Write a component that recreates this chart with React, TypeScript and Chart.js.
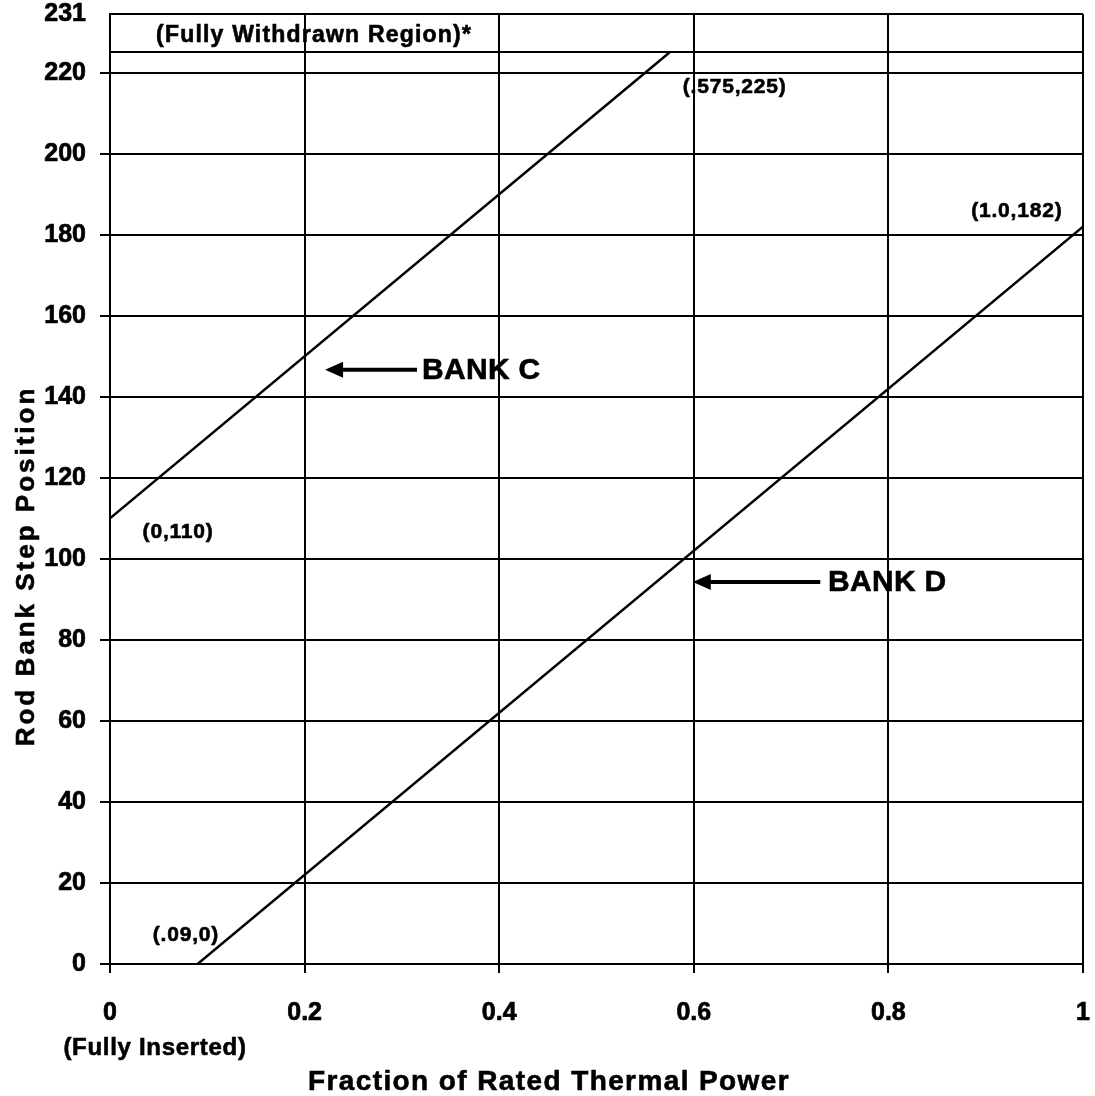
import { useEffect, useRef } from "react";
import { Chart, registerables } from "chart.js";

Chart.register(...registerables);

// ---- data ----
const bankCPower = [0, 0.575];
const bankCSteps = [110, 225];
const bankDPower = [0.09, 1.0];
const bankDSteps = [0, 182];

const xTickValues = [0, 0.2, 0.4, 0.6, 0.8, 1];
const xTickLabels = ["0", "0.2", "0.4", "0.6", "0.8", "1"];
const yTickValues = [0, 20, 40, 60, 80, 100, 120, 140, 160, 180, 200, 220, 225, 234.5];
const yTickLabels = ["0", "20", "40", "60", "80", "100", "120", "140", "160", "180", "200", "220", "", "231"];
const yMax = 234.5;

const pointLabelTexts = ["(0,110)", "(.575,225)", "(1.0,182)", "(.09,0)"];
const bankNames = ["BANK C", "BANK D"];
const regionText = "(Fully Withdrawn Region)*";
const insertedText = "(Fully Inserted)";
const xTitle = "Fraction of Rated Thermal Power";
const yTitle = "Rod Bank Step Position";

// ---- annotation anchors (data units) ----
const pointLabelAnchors = [
  { x: 0.07, y: 106.7 },
  { x: 0.642, y: 216.5 },
  { x: 0.932, y: 185.7 },
  { x: 0.078, y: 7.2 },
];
const arrowAnchors = [
  { tipX: 0.221, tailX: 0.3155, y: 146.7, textX: 0.3207 },
  { tipX: 0.599, tailX: 0.73, y: 94.3, textX: 0.738 },
];
const regionAnchor = { x: 0.2097, y: 229.1 };

const FAMILY = '"Liberation Sans", Arial, Helvetica, sans-serif';
const bold = (s: number) => `bold ${s}px ${FAMILY}`;

const annotationPlugin = {
  id: "annots",
  afterDraw(chart: any) {
    const { ctx } = chart;
    const xs = chart.scales.x;
    const ys = chart.scales.y;
    const text = (
      t: string,
      px: number,
      py: number,
      size: number,
      spacing: number,
      align: CanvasTextAlign = "center",
      baseline: CanvasTextBaseline = "middle"
    ) => {
      ctx.font = bold(size);
      (ctx as any).letterSpacing = spacing + "px";
      ctx.textAlign = align;
      ctx.textBaseline = baseline;
      ctx.lineWidth = 0.6;
      ctx.fillText(t, px, py);
      ctx.strokeText(t, px, py);
    };
    ctx.save();
    ctx.fillStyle = "#000";
    ctx.strokeStyle = "#000";

    // point labels
    pointLabelTexts.forEach((t, i) => {
      const a = pointLabelAnchors[i];
      text(t, xs.getPixelForValue(a.x), ys.getPixelForValue(a.y), 21, 0.8);
    });

    // region label
    text(regionText, xs.getPixelForValue(regionAnchor.x), ys.getPixelForValue(regionAnchor.y), 23, 1.2);

    // arrows + bank names
    bankNames.forEach((name, i) => {
      const a = arrowAnchors[i];
      const tip = xs.getPixelForValue(a.tipX);
      const tail = xs.getPixelForValue(a.tailX);
      const py = ys.getPixelForValue(a.y);
      const head = 18;
      ctx.lineWidth = 4;
      ctx.beginPath();
      ctx.moveTo(tail, py);
      ctx.lineTo(tip + head - 2, py);
      ctx.stroke();
      ctx.beginPath();
      ctx.moveTo(tip, py);
      ctx.lineTo(tip + head, py - 8);
      ctx.lineTo(tip + head, py + 8);
      ctx.closePath();
      ctx.fill();
      text(name, xs.getPixelForValue(a.textX), py + 1, 30, 0.3, "left", "middle");
    });

    // outside texts
    text(insertedText, 155, 1048, 24, 0.7);
    text(xTitle, 549, 1090, 28, 1.4, "center", "alphabetic");

    ctx.save();
    ctx.translate(27, 566);
    ctx.rotate(-Math.PI / 2);
    text(yTitle, 0, 0, 26, 3);
    ctx.restore();

    ctx.restore();
  },
};

export default function App() {
  const ref = useRef<HTMLCanvasElement | null>(null);

  useEffect(() => {
    document.body.style.margin = "0";
    const canvas = ref.current;
    if (!canvas) return;
    const chart = new Chart(canvas, {
      type: "scatter",
      data: {
        datasets: [
          {
            label: "Bank C",
            data: bankCPower.map((x, i) => ({ x, y: bankCSteps[i] })),
            showLine: true,
            borderColor: "#000",
            borderWidth: 2.5,
            pointRadius: 0,
            fill: false,
          },
          {
            label: "Bank D",
            data: bankDPower.map((x, i) => ({ x, y: bankDSteps[i] })),
            showLine: true,
            borderColor: "#000",
            borderWidth: 2.5,
            pointRadius: 0,
            fill: false,
          },
        ],
      },
      options: {
        animation: false,
        responsive: false,
        maintainAspectRatio: false,
        layout: { padding: { top: 14, right: 12, left: 0, bottom: 0 } },
        plugins: {
          legend: { display: false },
          tooltip: { enabled: false },
          title: { display: false },
        },
        scales: {
          x: {
            type: "linear",
            min: 0,
            max: 1,
            afterBuildTicks: (s: any) => {
              s.ticks = xTickValues.map((v) => ({ value: v }));
            },
            afterFit: (s: any) => {
              s.height = 132;
              s.paddingLeft = 0;
              s.paddingRight = 0;
              s.paddingTop = 0;
              s.paddingBottom = 0;
            },
            ticks: {
              callback: (_v: any, i: number) => xTickLabels[i],
              color: "#000",
              textStrokeColor: "#000",
              textStrokeWidth: 0.7,
              font: { family: FAMILY, size: 25, weight: "bold", lineHeight: 1 },
              padding: 28,
              maxRotation: 0,
              autoSkip: false,
            },
            grid: { color: "#000", lineWidth: 2, tickLength: 9, tickColor: "#000", tickWidth: 2 },
            border: { color: "#000", width: 2 },
          },
          y: {
            type: "linear",
            min: 0,
            max: yMax,
            afterBuildTicks: (s: any) => {
              s.ticks = yTickValues.map((v) => ({ value: v }));
            },
            afterFit: (s: any) => {
              s.width = 110;
              s.paddingLeft = 0;
              s.paddingRight = 0;
              s.paddingTop = 0;
              s.paddingBottom = 0;
            },
            ticks: {
              callback: (_v: any, i: number) => yTickLabels[i],
              color: "#000",
              textStrokeColor: "#000",
              textStrokeWidth: 0.7,
              font: { family: FAMILY, size: 25, weight: "bold", lineHeight: 1 },
              padding: 14,
              autoSkip: false,
            },
            grid: {
              color: "#000",
              lineWidth: 2,
              tickLength: 10,
              tickWidth: 2,
              tickColor: (c: any) => (c.tick && c.tick.value > 220 ? "rgba(0,0,0,0)" : "#000"),
            },
            border: { color: "#000", width: 2 },
          },
        },
      },
      plugins: [annotationPlugin],
    });
    return () => chart.destroy();
  }, []);

  return (
    <div style={{ width: 1095, height: 1096, background: "#fff" }}>
      <canvas ref={ref} width={1095} height={1096} style={{ display: "block" }} />
    </div>
  );
}
